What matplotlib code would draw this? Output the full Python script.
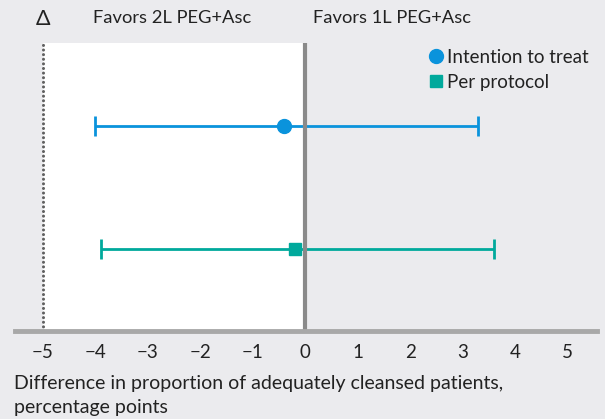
import matplotlib.pyplot as plt

plt.rcParams['font.family'] = ['Lato', 'DejaVu Sans']
plt.rcParams['axes.unicode_minus'] = True

# point estimates and 95% CI, percentage points
analyses = ["Intention to treat", "Per protocol"]
estimates = [-0.4, -0.2]
ci_low = [-4.0, -3.9]
ci_high = [3.3, 3.6]
y_pos = [2, 1]
colors = ["#0a93dc", "#00a99c"]
markers = ["o", "s"]

margin = -5
ticks = [-5, -4, -3, -2, -1, 0, 1, 2, 3, 4, 5]
tick_labels = ["\u22125", "\u22124", "\u22123", "\u22122", "\u22121", "0", "1", "2", "3", "4", "5"]

bg = "#ebebee"
ink = "#222222"
fig = plt.figure(figsize=(6.05, 4.19), dpi=100, facecolor=bg)
ax = fig.add_axes([15 / 605, 1 - 331 / 419, 582 / 605, 288 / 419])
ax.set_facecolor(bg)

ax.set_xlim(-5.53, 5.56)
ax.set_ylim(0.335, 2.675)

ax.axvspan(margin, 0, color="white", zorder=0)
ax.axvline(margin, color="#606060", lw=2.2, ls=(0, (0.01, 1.5)),
           dash_capstyle="round", zorder=3)
ax.axvline(0, color="#8a8a8a", lw=3, zorder=3)

for name, est, lo, hi, y, c, m in zip(analyses, estimates, ci_low, ci_high, y_pos, colors, markers):
    ax.errorbar([est], [y], xerr=[[est - lo], [hi - est]], fmt="none",
                ecolor=c, elinewidth=2, capsize=7, capthick=2, zorder=2)
    ax.plot([est], [y], marker=m, color=c, markersize=10 if m == "o" else 9,
            ls="none", label=name, zorder=4)

for s in ["top", "left", "right"]:
    ax.spines[s].set_visible(False)
ax.spines["bottom"].set_color("#a8a8a8")
ax.spines["bottom"].set_linewidth(3.5)
ax.spines["bottom"].set_zorder(5)

ax.set_yticks([])
ax.set_xticks(ticks)
ax.set_xticklabels(tick_labels)
ax.tick_params(axis="x", length=0, pad=9, labelsize=13.5, labelcolor=ink)

fig.text(14 / 605, 1 - 383 / 419, "Difference in proportion of adequately cleansed patients,",
         fontsize=14, color=ink, va="center", ha="left")
fig.text(14 / 605, 1 - 407 / 419, "percentage points",
         fontsize=14, color=ink, va="center", ha="left")

fig.text(43 / 605, 1 - 19 / 419, "\u0394", fontsize=15.5, color=ink, va="center", ha="center")
fig.text(93 / 605, 1 - 18 / 419, "Favors 2L PEG+Asc", fontsize=13.2, color=ink, va="center", ha="left")
fig.text(313 / 605, 1 - 18 / 419, "Favors 1L PEG+Asc", fontsize=13.2, color=ink, va="center", ha="left")

ax.legend(loc="upper left", bbox_to_anchor=(402 / 582, 1 + 2 / 288),
          frameon=False, fontsize=13.5, handletextpad=0.0, handlelength=1.2,
          labelspacing=0.45, borderaxespad=0, labelcolor=ink)

fig.savefig("out.png", dpi=100, facecolor=bg)
